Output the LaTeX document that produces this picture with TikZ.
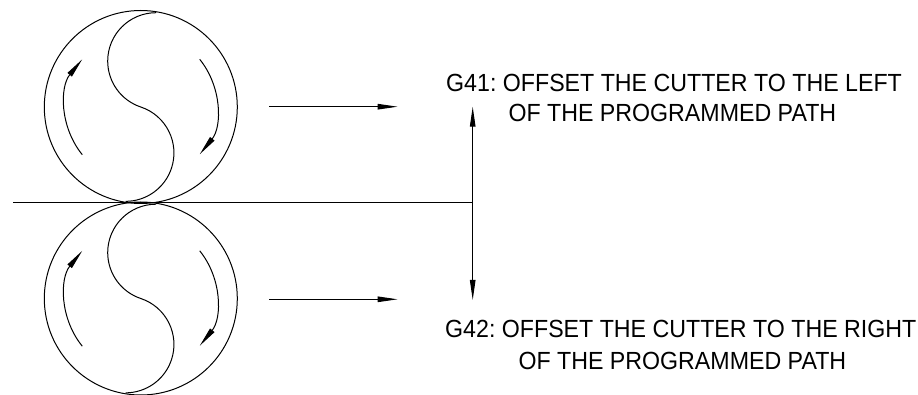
\documentclass[tikz,border=0pt]{standalone}
\usepackage{fontspec}
\setmainfont{Liberation Sans}
\newfontfamily\labfont[FakeStretch=0.935]{Liberation Sans}
\usetikzlibrary{arrows.meta}
\tikzset{
  ln/.style={line width=1pt,black},
  slim/.style={ln,-{Stealth[length=20pt,width=5.5pt,inset=0pt]}},
  roll/.style={circle,draw,ln,minimum size=193pt,inner sep=0pt},
  lab/.style={anchor=base west,inner sep=0pt,font=\labfont\fontsize{24.8}{28}\selectfont\frenchspacing}
}
\newcommand{\rollerparts}{%
  \draw[ln] (15.3,-94.3) arc[start angle=-90,end angle=-251.6,radius=48.4]
            arc[start angle=-71.6,end angle=90,radius=48.4];
  \draw[slim] (-58.5,47.7) arc[start angle=140.8,end angle=219.2,radius=75.5];
  \draw[slim] (58.9,-47.7) arc[start angle=-39,end angle=39,radius=75.5];
}
\begin{document}
\begin{tikzpicture}[x=1pt,y=-1pt]
\useasboundingbox (0,0) rectangle (918,395);
\fill[white] (0,0) rectangle (918,395);
\node[roll] (top) at (140.8,107) {};
\node[roll] (bot) at (140.8,298.5) {};
\begin{scope}[shift={(top.center)}]\rollerparts\end{scope}
\begin{scope}[shift={(bot.center)}]\rollerparts\end{scope}
\coordinate (baseL) at (13,202.7);
\coordinate (baseR) at (472.7,202.7);
\coordinate (upTip) at (472.7,106.7);
\coordinate (dnTip) at (472.7,300);
\coordinate (a1s) at (269.3,106.7);
\coordinate (a1e) at (397.7,106.7);
\coordinate (a2s) at (269.3,299.3);
\coordinate (a2e) at (397.7,299.3);
\draw[ln] (baseL) -- (baseR);
\draw[slim] (baseR) -- (upTip);
\draw[slim] (baseR) -- (dnTip);
\draw[slim] (a1s) -- (a1e);
\draw[slim] (a2s) -- (a2e);
\node[lab] (g41a) at (446,91.5) {G41: OFFSET THE CUTTER TO THE LEFT};
\node[lab] (g41b) at (508.3,122) {OF THE PROGRAMMED PATH};
\node[lab] (g42a) at (445,337) {G42: OFFSET THE CUTTER TO THE RIGHT};
\node[lab] (g42b) at (518.3,369.5) {OF THE PROGRAMMED PATH};
\end{tikzpicture}
\end{document}
